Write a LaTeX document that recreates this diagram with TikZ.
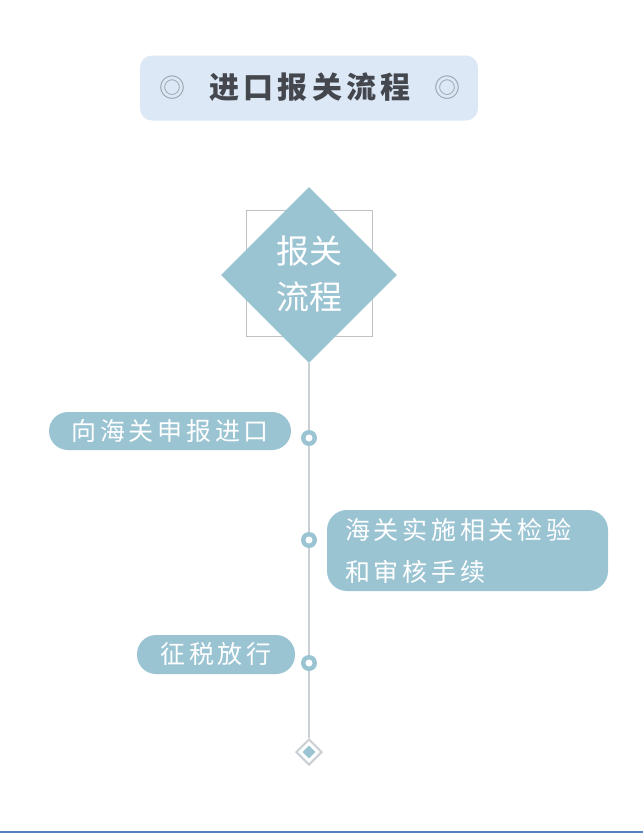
\documentclass[tikz,border=0pt]{standalone}
\usepackage{fontspec}
\usetikzlibrary{shapes.geometric}
\newfontfamily\cjk{Noto Sans CJK SC}
\newfontfamily\cjkwide[LetterSpace=15]{Noto Sans CJK SC}
\newfontfamily\cjktitle[LetterSpace=14]{Noto Sans CJK SC}
\definecolor{flowblue}{RGB}{155,196,211}
\definecolor{titlebg}{RGB}{220,232,246}
\definecolor{titletext}{RGB}{68,72,78}
\definecolor{ringgray}{RGB}{150,158,166}
\definecolor{linegray}{RGB}{200,208,213}
\definecolor{framegray}{RGB}{190,195,200}
\definecolor{edgeblue}{RGB}{82,130,186}
\tikzset{
  stepbox/.style={fill=flowblue, text=white, inner sep=0pt, font=\cjkwide\fontsize{25}{42}\selectfont},
  dot/.style={circle, fill=flowblue, minimum size=16pt, inner sep=0pt,
    path picture={\fill[white] (path picture bounding box.center) circle (3.5pt);}}
}
\begin{document}
\begin{tikzpicture}[x=1pt, y=-1pt]
        \useasboundingbox (0, 0) rectangle (643, 833);
        \fill[white] (0, 0) rectangle (643, 833);
        \draw[edgeblue, line width=2pt] (0, 831.5) -- (643, 831.5);

        % title
        \node[fill=titlebg, rounded corners=12pt, minimum width=338pt, minimum height=65pt] (title) at (309, 88) {};
        \node[text=ringgray, font=\cjk\fontsize{26}{26}\selectfont] (ringl) at (172, 88) {◎};
        \node[text=ringgray, font=\cjk\fontsize{26}{26}\selectfont] (ringr) at (447, 88) {◎};
        \node[text=titletext, font=\cjktitle\bfseries\fontsize{30}{30}\selectfont] (titletxt) at (310, 87) {进口报关流程};

        % head
        \node[draw=framegray, line width=1pt, minimum size=126pt, inner sep=0pt] (frame) at (309, 273.5) {};
        \node[diamond, fill=flowblue, minimum size=176pt, inner sep=0pt, aspect=1] (head) at (309, 275) {};
        \node[text=white, align=center, font=\cjk\fontsize{33}{46}\selectfont] (headtxt) at (309, 274) {报关\\流程};

        % end marker
        \node[diamond, draw=linegray, line width=2pt, fill=white, minimum size=26pt, inner sep=0pt] (stop) at (309, 752) {};
        \node[diamond, fill=flowblue, minimum size=13pt, inner sep=0pt] (stopin) at (309, 752) {};

        \draw[linegray, line width=1.5pt] (head.south) -- (stop.north);

        % steps
        \node[dot] (d1) at (309, 438) {};
        \node[dot] (d2) at (309, 540) {};
        \node[dot] (d3) at (309, 663) {};

        \node[stepbox, rounded corners=19pt, minimum width=242pt, minimum height=38pt] (s1) at (170, 431) {向海关申报进口};
        \node[stepbox, rounded corners=20pt, minimum width=281pt, minimum height=81pt, text width=245pt, align=left] (s2) at (467.5, 550.5)
          {海关实施相关检验\\和审核手续};
        \node[stepbox, rounded corners=19pt, minimum width=158pt, minimum height=39pt] (s3) at (216, 654.5) {征税放行};
\end{tikzpicture}
\end{document}
